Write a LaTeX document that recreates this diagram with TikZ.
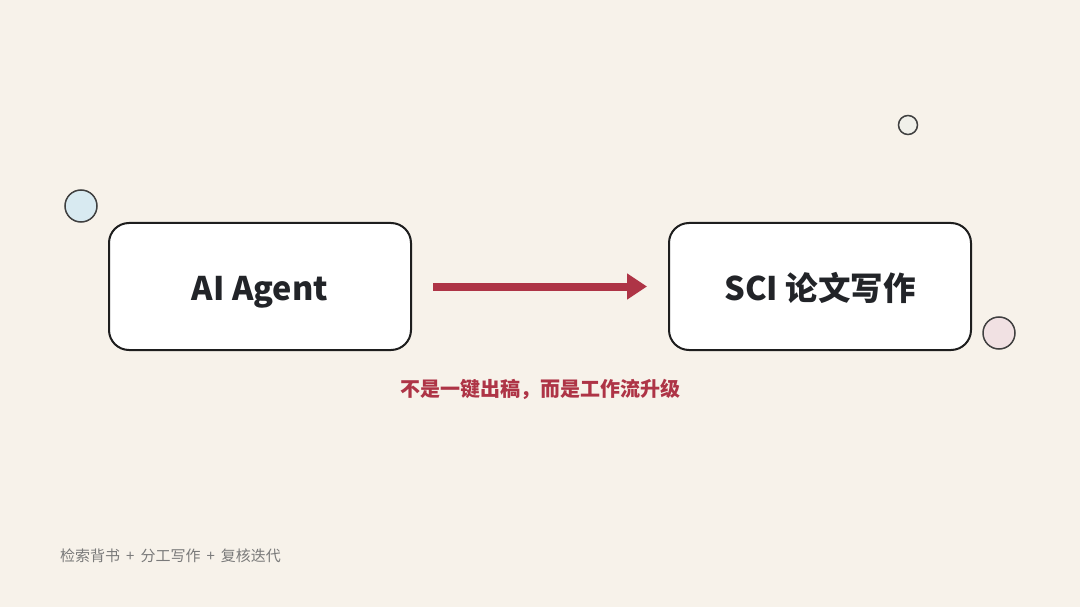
\documentclass[tikz,border=0pt]{standalone}
\usepackage{fontspec}
\setmainfont{Noto Sans CJK SC}
\usetikzlibrary{arrows.meta}
\definecolor{bg}{HTML}{F7F2EA}
\definecolor{boxline}{HTML}{1E1E1E}
\definecolor{accent}{HTML}{AE3446}
\definecolor{ctext}{HTML}{222428}
\definecolor{graytext}{HTML}{7A7A7A}
\definecolor{cblue}{HTML}{D8EAF1}
\definecolor{cpink}{HTML}{F1E1E3}
\definecolor{cgray}{HTML}{F0F0EA}
\tikzset{
  mainbox/.style={draw=boxline, line width=2pt, fill=white, rounded corners=20pt,
    minimum width=302pt, minimum height=127pt, inner sep=0pt},
  boxtext/.style={font=\fontsize{32.5pt}{38pt}\selectfont\bfseries, text=ctext, anchor=base, inner sep=0pt},
  deco/.style={draw=boxline!85, line width=1.5pt}
}
\begin{document}
\begin{tikzpicture}[x=1pt,y=-1pt]
\fill[bg] (0,0) rectangle (1080,607);
\useasboundingbox (0,0) rectangle (1080,607);
\node[mainbox] (agent) at (260,286.5) {};
\node[mainbox] (sci) at (820,286.5) {};
\node[boxtext] (agentlabel) at (260,300) {AI Agent};
\node[boxtext] (scilabel) at (820,300) {SCI 论文写作};
\draw[accent, line width=8pt, -{Triangle[length=20pt,width=25pt]}]
  ([xshift=21pt]agent.east) -- ([xshift=-21pt]sci.west);
\node[font=\fontsize{20pt}{24pt}\selectfont\bfseries, text=accent] (sub) at (540,389) {不是一键出稿，而是工作流升级};
\node[font=\fontsize{15pt}{18pt}\selectfont, text=graytext, anchor=west, inner sep=0pt] (foot) at (60,556) {检索背书\hspace{6pt}+\hspace{6pt}分工写作\hspace{6pt}+\hspace{6pt}复核迭代};
\node[deco, circle, fill=cblue, minimum size=32pt, inner sep=0pt] (c1) at (81,206) {};
\node[deco, circle, fill=cgray, minimum size=19pt, inner sep=0pt] (c2) at (908,125) {};
\node[deco, circle, fill=cpink, minimum size=32pt, inner sep=0pt] (c3) at (999,333) {};
\end{tikzpicture}
\end{document}
